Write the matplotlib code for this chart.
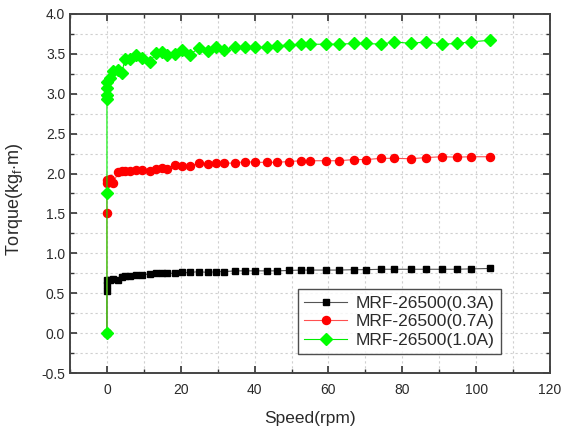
import matplotlib
matplotlib.use('Agg')
import matplotlib.pyplot as plt
from matplotlib.ticker import MultipleLocator

# speed samples shared by all three runs (rpm), after the start-up at 0 rpm
speed = [0.8, 1.7, 3.1, 4.0, 4.9, 6.2, 8.0, 9.4, 11.6, 13.4, 14.8, 16.3,
         18.4, 20.2, 22.4, 24.9, 27.4, 29.6, 31.7, 34.6, 37.5, 40.0, 43.3,
         46.0, 49.3, 52.6, 55.0, 59.3, 62.8, 67.0, 70.3, 74.2, 77.8, 82.3,
         86.5, 90.7, 94.8, 98.7, 103.8]

# torque readings taken at 0 rpm (start-up)
start_03 = [0.0, 0.53, 0.60, 0.66]
start_07 = [0.0, 1.51, 1.88, 1.92]
start_10 = [0.0, 1.75, 2.93, 2.99, 3.07, 3.15]

torque_03 = [0.67, 0.68, 0.66, 0.70, 0.71, 0.72, 0.73, 0.73, 0.74, 0.75,
             0.75, 0.75, 0.75, 0.76, 0.76, 0.77, 0.76, 0.77, 0.77, 0.78,
             0.78, 0.78, 0.78, 0.78, 0.785, 0.79, 0.79, 0.79, 0.79, 0.795,
             0.795, 0.80, 0.80, 0.80, 0.80, 0.80, 0.80, 0.805, 0.81]
torque_07 = [1.93, 1.88, 2.02, 2.03, 2.03, 2.03, 2.05, 2.04, 2.03, 2.06,
             2.07, 2.06, 2.11, 2.10, 2.09, 2.13, 2.12, 2.13, 2.13, 2.13,
             2.15, 2.14, 2.14, 2.14, 2.15, 2.16, 2.16, 2.16, 2.16, 2.175,
             2.175, 2.19, 2.19, 2.185, 2.20, 2.21, 2.205, 2.21, 2.21]
torque_10 = [3.20, 3.28, 3.30, 3.26, 3.43, 3.43, 3.49, 3.45, 3.40, 3.51,
             3.52, 3.48, 3.50, 3.55, 3.49, 3.57, 3.53, 3.59, 3.55, 3.58,
             3.58, 3.58, 3.58, 3.60, 3.61, 3.62, 3.62, 3.62, 3.62, 3.63,
             3.63, 3.62, 3.65, 3.63, 3.65, 3.62, 3.63, 3.65, 3.67]

labels = ['MRF-26500(0.3A)', 'MRF-26500(0.7A)', 'MRF-26500(1.0A)']

txt = '#2a2a2a'
plt.rcParams['font.family'] = ['Liberation Sans', 'DejaVu Sans']
plt.rcParams['mathtext.fontset'] = 'custom'
plt.rcParams['mathtext.rm'] = 'Liberation Sans'

fig = plt.figure(figsize=(5.62, 4.28), dpi=100)
ax = fig.add_axes([0.1246, 0.1285, 0.854, 0.839])

series = [
    (start_03, torque_03, 's', '#000000', '#555555', 4.8),
    (start_07, torque_07, 'o', '#ff0000', '#ff5050', 5.8),
    (start_10, torque_10, 'D', '#00ff00', '#00ee00', 5.8),
]
for (start, torque, mk, mc, lc, ms), lab in zip(series, labels):
    xs = [0.0] * len(start) + speed
    ys = start + torque
    ax.plot(xs, ys, color=lc, lw=0.8, marker=mk, ms=ms,
            mfc=mc, mec=mc, label=lab, zorder=3)

ax.set_xlim(-10, 120)
ax.set_ylim(-0.5, 4.0)
ax.xaxis.set_major_locator(MultipleLocator(20))
ax.xaxis.set_minor_locator(MultipleLocator(10))
ax.yaxis.set_major_locator(MultipleLocator(0.5))
ax.yaxis.set_minor_locator(MultipleLocator(0.25))
ax.yaxis.set_major_formatter(plt.FormatStrFormatter('%.1f'))

ax.grid(True, which='both', color='#cfcfcf', lw=0.8, ls=(0, (2, 2.5)), zorder=0)
ax.set_axisbelow(True)

ax.tick_params(which='both', direction='in', top=True, right=True,
               colors='#333333', labelcolor=txt, labelsize=10)
ax.tick_params(which='major', length=5, width=1.2)
ax.tick_params(which='minor', length=3, width=1.0)
ax.tick_params(axis='x', pad=7)
for sp in ax.spines.values():
    sp.set_color('#444444')
    sp.set_linewidth(1.4)

ax.set_xlabel('Speed(rpm)', fontsize=12.5, color=txt)
ax.set_ylabel(r'Torque(kg$_\mathregular{f}$$\cdot$m)', fontsize=13, color=txt)
ax.xaxis.set_label_coords(0.5, -0.105)
ax.yaxis.set_label_coords(-0.094, 0.482)

leg = ax.legend(loc='lower right', bbox_to_anchor=(0.898, 0.053),
                borderaxespad=0, fontsize=12.5, frameon=True, fancybox=False,
                edgecolor='#222222', handlelength=2.5, borderpad=0.35,
                labelspacing=0.2, handletextpad=0.5)
leg.get_frame().set_linewidth(1.0)
for t in leg.get_texts():
    t.set_color(txt)

fig.savefig('out.png', dpi=100)
